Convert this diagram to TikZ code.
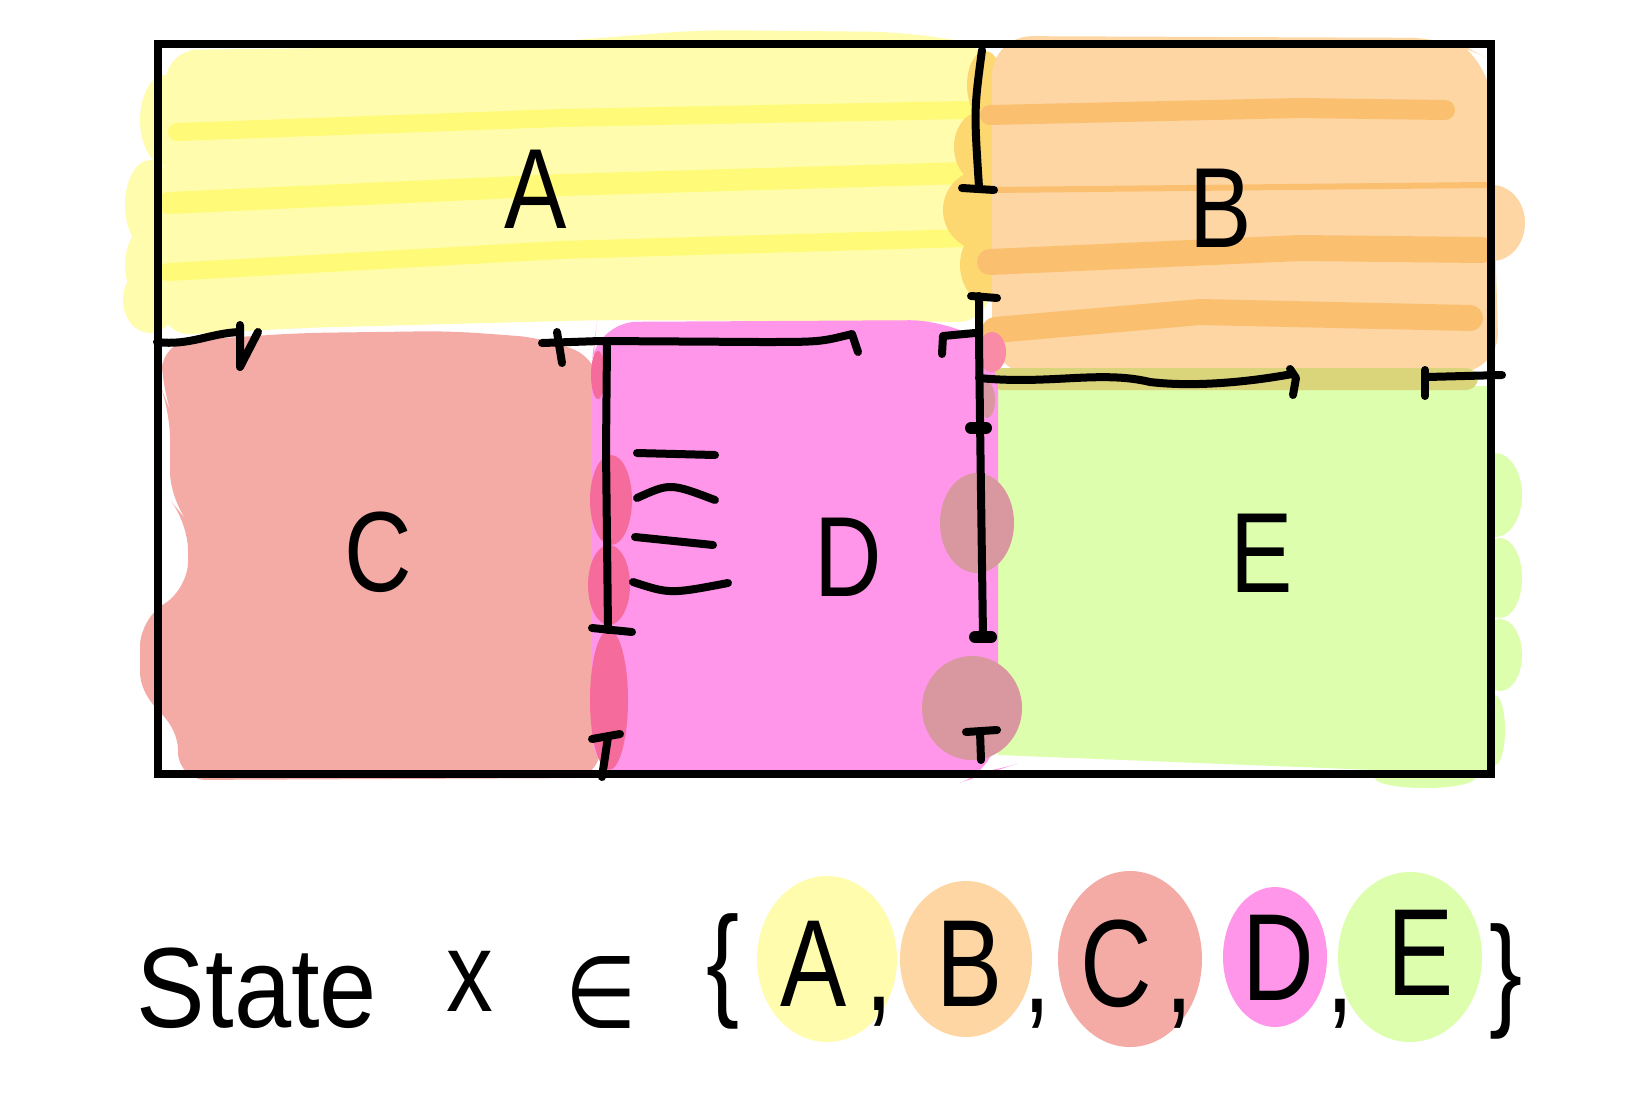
\documentclass[tikz,border=0pt]{standalone}
\usepackage{fontspec}
\setmainfont{Liberation Sans}
\newfontfamily\symfont{DejaVu Sans}
\definecolor{ylw}{HTML}{FFFDAD}
\definecolor{ylwd}{HTML}{FFFB78}
\definecolor{org}{HTML}{FDD6A4}
\definecolor{orgd}{HTML}{FBBF70}
\definecolor{gold}{HTML}{FDD770}
\definecolor{grn}{HTML}{DCFEAD}
\definecolor{olv}{HTML}{DAD47B}
\definecolor{sal}{HTML}{F4AAA5}
\definecolor{pnk}{HTML}{FF96E9}
\definecolor{hotp}{HTML}{F56B9C}
\definecolor{mauv}{HTML}{D9979F}
\definecolor{rosy}{HTML}{F98BA6}
\begin{document}
\begin{tikzpicture}[x=0.5pt,y=-0.5pt,
  ink/.style={line width=4pt,line cap=round,line join=round,draw=black},
  frame/.style={line width=3.6pt,draw=black},
  lbl/.style={font=\fontsize{57}{60}\selectfont,inner sep=0pt,anchor=base,text=black,xscale=0.82},
  blbl/.style={font=\fontsize{62}{64}\selectfont,inner sep=0pt,anchor=base,text=black,xscale=0.8},
  hl/.style={line cap=round,line join=round,line width=#1},
]
\useasboundingbox (0,0) rectangle (1626,1098);
\fill[white] (0,0) rectangle (1626,1098);

% ---- region A (yellow)
\fill[ylw,rounded corners=16pt] (166,50) -- (500,46) -- (700,30) -- (900,32) -- (990,45) -- (990,322) -- (600,320) -- (300,328) -- (160,336) -- cycle;
\fill[ylw] (165,120) ellipse (25 and 45);
\fill[ylw] (150,205) ellipse (25 and 45);
\fill[ylw] (150,265) ellipse (25 and 40);
\fill[ylw] (150,300) ellipse (27 and 33);
\draw[ylwd,hl=9pt] (177,132) -- (560,118) -- (965,110);
\draw[ylwd,hl=11pt] (168,203) -- (560,185) -- (965,173);
\draw[ylwd,hl=9pt] (168,272) -- (560,250) -- (965,238);

% ---- region B (orange)
\fill[gold] (985,85) ellipse (18 and 34);
\fill[gold] (980,147) ellipse (26 and 35);
\fill[gold] (982,210) ellipse (39 and 40);
\fill[gold] (986,265) ellipse (26 and 36);
\fill[org,rounded corners=20pt] (992,36) -- (1450,38) -- (1490,60) -- (1499,372) -- (992,374) -- cycle;
\fill[org] (1492,223) ellipse (33 and 38);
\draw[orgd,hl=10pt] (990,115) -- (1300,108) -- (1445,110);
\draw[orgd,hl=3pt] (990,190) -- (1485,185);
\draw[orgd,hl=13pt] (990,262) -- (1300,248) -- (1482,250);
\draw[orgd,hl=13pt] (995,330) -- (1200,312) -- (1470,318);

% ---- region E (green)
\fill[grn] (998,386) -- (1491,386) -- (1491,775) -- (1375,770) -- (998,755) -- cycle;
\fill[grn] (1495,495) ellipse (27 and 42);
\fill[grn] (1500,578) ellipse (22 and 40);
\fill[grn] (1500,655) ellipse (22 and 36);
\fill[grn] (1495,730) ellipse (10 and 35);
\fill[grn] (1425,778) ellipse (50 and 10);
\fill[olv,rounded corners=6pt] (990,368) rectangle (1478,390);

% ---- region C (salmon)
\fill[sal,rounded corners=14pt] (162,342) -- (300,333) -- (450,331) -- (545,338) -- (600,360) -- (600,778) -- (178,780) -- (178,722) -- (140,700) -- (140,618) -- (188,590) -- (188,522) -- (170,500) -- (170,410) -- (162,390) -- cycle;

% ---- region D (pink)
\fill[pnk,rounded corners=20pt] (597,322) -- (950,320) -- (998,350) -- (998,770) -- (980,776) -- (592,776) -- (592,360) -- cycle;
\fill[hotp] (598,375) ellipse (7 and 24);
\fill[hotp] (611,500) ellipse (21 and 45);
\fill[hotp] (609,585) ellipse (21 and 40);
\fill[hotp] (609,700) ellipse (19 and 70);
\fill[rosy] (992,352) ellipse (14 and 20);
\fill[mauv] (987,400) ellipse (8 and 18);
\fill[mauv] (977,523) ellipse (37 and 50);
\fill[mauv] (972,708) ellipse (50 and 52);

% ---- frame
\draw[frame] (158,44) rectangle (1491,774);

% ---- black strokes
\draw[ink] (157,342) .. controls (190,346) and (210,333) .. (240,332);
\draw[ink] (240,325) -- (240,367) -- (258,332);
\draw[ink] (542,343) -- (600,341) -- (760,342) .. controls (820,342) .. (852,334) -- (858,352);
\draw[ink] (557,332) -- (562,363);
\draw[ink] (942,354) -- (943,336) -- (975,333);

\draw[ink] (607,343) -- (606,450) -- (608,630);
\draw[ink] (592,628) -- (632,632);

\draw[ink] (982,50) .. controls (974,110) .. (979,187);
\draw[ink] (962,188) -- (994,190);
\draw[ink] (971,296) -- (997,298);
\draw[ink] (979,296) -- (979,340) -- (980,420) -- (983,637);
\draw[ink,line width=6pt] (971,428) -- (986,428);
\draw[ink,line width=6pt] (975,637) -- (991,637);

\draw[ink] (979,378) .. controls (1050,385) and (1100,370) .. (1150,382) .. controls (1200,388) and (1260,380) .. (1292,374);
\draw[ink] (1290,369) -- (1296,378) -- (1293,395);
\draw[ink] (1425,370) -- (1425,396);
\draw[ink] (1427,377) -- (1502,375);

\draw[ink] (592,739) -- (620,734);
\draw[ink] (608,737) -- (602,777);
\draw[ink] (966,732) -- (997,730);
\draw[ink] (980,732) -- (981,760);

\draw[ink] (637,453) -- (715,455);
\draw[ink] (637,498) .. controls (670,483) .. (715,500);
\draw[ink] (635,537) -- (713,545);
\draw[ink] (633,582) .. controls (670,594) .. (728,583);

% ---- region labels
\node[lbl] (la) at (536,228) {A};
\node[lbl] (lb) at (1221,247) {B};
\node[lbl] (lc) at (378,591) {C};
\node[lbl] (ld) at (848,596) {D};
\node[lbl] (le) at (1262,592) {E};

% ---- bottom legend blobs
\fill[ylw] (827,959) ellipse (70 and 83);
\fill[org] (966,959) ellipse (66 and 78);
\fill[sal] (1130,959) ellipse (72 and 88);
\fill[pnk] (1275,957) ellipse (52 and 70);
\fill[grn] (1410,957) ellipse (72 and 85);

% ---- bottom legend text
\node[lbl,xscale=1.1] (state) at (257,1027) {State};
\node[lbl] (vx) at (470,1011) {x};
\node[lbl,font=\symfont\fontsize{50}{52}\selectfont] (elem) at (601,1027) {∈};
\node[blbl] (lbr) at (723,1003) {\{};
\node[blbl] (sa) at (814,1006) {A};
\node[blbl] (c1) at (879,1010) {,};
\node[blbl] (sb) at (970,1006) {B};
\node[blbl] (c2) at (1037,1012) {,};
\node[blbl] (sc) at (1116,1006) {C};
\node[blbl] (c3) at (1179,1012) {,};
\node[blbl] (sd) at (1278,1000) {D};
\node[blbl] (c4) at (1340,1012) {,};
\node[blbl] (se) at (1421,995) {E};
\node[blbl] (rbr) at (1506,1013) {\}};
\end{tikzpicture}
\end{document}
